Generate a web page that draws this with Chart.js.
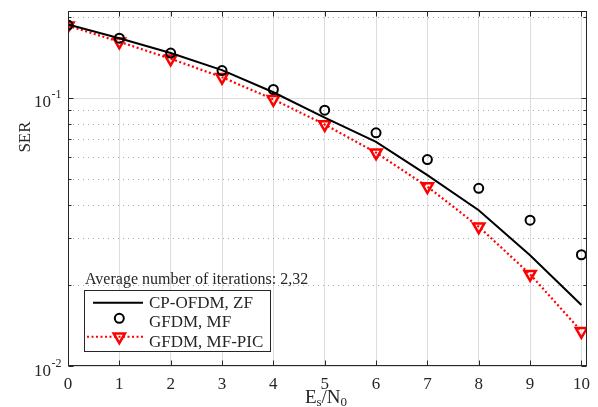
<!DOCTYPE html>
<html>
<head>
<meta charset="utf-8">
<script src="https://cdn.jsdelivr.net/npm/chart.js@4.4.0/dist/chart.umd.min.js"></script>
<style>
  html, body { margin: 0; padding: 0; background: #fff; }
  #wrap { width: 598px; height: 407px; }
</style>
</head>
<body>
<div id="wrap"><canvas id="serChart" width="598" height="407"></canvas></div>
<script>
// SER vs Es/N0 data
const esN0 = [0, 1, 2, 3, 4, 5, 6, 7, 8, 9, 10];
const cpOfdmZf = [0.188, 0.167, 0.147, 0.127, 0.105, 0.0845, 0.0686, 0.0515, 0.0381, 0.0259, 0.0169];
const gfdmMf = [0.187, 0.167, 0.147, 0.1265, 0.1075, 0.090, 0.0741, 0.0589, 0.046, 0.035, 0.026];
const gfdmMfPic = [0.186, 0.162, 0.140, 0.1195, 0.0988, 0.0796, 0.0625, 0.0467, 0.0331, 0.0220, 0.01347];
const seriesLabels = ["CP-OFDM, ZF", "GFDM, MF", "GFDM, MF-PIC"];
const noteText = "Average number of iterations: 2,32";

const serif = "'Liberation Serif', 'DejaVu Serif', serif";
const axisColor = "#262626";

function toPoints(ys) {
  return esN0.map((x, i) => ({ x: x, y: ys[i] }));
}

// grid, box, ticks, labels and legend drawn MATLAB-style
const matlabFrame = {
  id: "matlabFrame",
  beforeDatasetsDraw(chart) {
    const { ctx, chartArea: a, scales: { y } } = chart;
    ctx.save();
    ctx.lineWidth = 1;
    [0.01, 0.1].forEach(dec => {
      for (let k = 1; k <= 9; k++) {
        const v = k * dec;
        if (v < y.min || v > y.max) continue;
        const py = Math.round(y.getPixelForValue(v)) + 0.5;
        if (k === 1) {
          ctx.setLineDash([]);
          ctx.strokeStyle = "#dedede";
        } else {
          ctx.setLineDash([1, 4]);
          ctx.strokeStyle = "#a9a9a9";
        }
        ctx.beginPath();
        ctx.moveTo(a.left, py);
        ctx.lineTo(a.right, py);
        ctx.stroke();
      }
    });
    ctx.restore();
  },
  afterDatasetsDraw(chart) {
    const { ctx, chartArea: a, scales: { x, y } } = chart;
    ctx.save();
    ctx.strokeStyle = axisColor;
    ctx.fillStyle = axisColor;
    ctx.lineWidth = 1;
    ctx.setLineDash([]);
    const L = Math.round(a.left) + 0.5, R = Math.round(a.right) - 0.5;
    const T = Math.round(a.top) + 0.5, B = Math.round(a.bottom) - 0.5;

    // ticks
    ctx.beginPath();
    esN0.forEach(v => {
      const px = Math.round(x.getPixelForValue(v)) + 0.5;
      ctx.moveTo(px, B); ctx.lineTo(px, B - 5);
      ctx.moveTo(px, T); ctx.lineTo(px, T + 5);
    });
    [0.01, 0.1].forEach(dec => {
      for (let k = 1; k <= 9; k++) {
        const v = k * dec;
        if (v < y.min || v > y.max) continue;
        const py = Math.round(y.getPixelForValue(v)) + 0.5;
        const len = k === 1 ? 5 : 3;
        ctx.moveTo(L, py); ctx.lineTo(L + len, py);
        ctx.moveTo(R, py); ctx.lineTo(R - len, py);
      }
    });
    ctx.stroke();

    // box
    ctx.strokeRect(L, T, R - L, B - T);

    // y tick labels 10^-1, 10^-2
    ctx.textBaseline = "alphabetic";
    [[0.1, "-1", 9.4], [0.01, "-2", 10]].forEach(([v, ex, dy]) => {
      const py = y.getPixelForValue(v);
      ctx.font = "17px " + serif;
      const w1 = ctx.measureText("10").width;
      ctx.font = "12px " + serif;
      const w2 = ctx.measureText(ex).width;
      const x0 = a.left - 7 - w1 - w2;
      ctx.font = "17px " + serif;
      ctx.fillText("10", x0, py + dy);
      ctx.font = "12px " + serif;
      ctx.fillText(ex, x0 + w1 + 0.5, py + dy - 9);
    });

    // y title
    ctx.save();
    ctx.translate(30, 137);
    ctx.rotate(-Math.PI / 2);
    ctx.font = "17px " + serif;
    ctx.textAlign = "center";
    ctx.fillText("SER", 0, 0);
    ctx.restore();

    // x title E_s/N_0
    const parts = [["E", 19, 0], ["s", 13, 3.5], ["/N", 19, 0], ["0", 13, 3.5]];
    let tw = 0;
    parts.forEach(p => { ctx.font = p[1] + "px " + serif; tw += ctx.measureText(p[0]).width; });
    let cx = 326 - tw / 2;
    parts.forEach(p => {
      ctx.font = p[1] + "px " + serif;
      ctx.fillText(p[0], cx, 402.5 + p[2]);
      cx += ctx.measureText(p[0]).width;
    });

    // note above legend
    ctx.font = "16px " + serif;
    ctx.fillText(noteText, 85, 284);

    // legend box
    ctx.fillStyle = "#fff";
    ctx.fillRect(84.5, 290.5, 186, 61);
    ctx.strokeStyle = axisColor;
    ctx.strokeRect(84.5, 290.5, 186, 61);
    const rows = [302.7, 318.3, 336.7];
    // row 1: solid black line
    ctx.strokeStyle = "#000";
    ctx.lineWidth = 2;
    ctx.beginPath(); ctx.moveTo(93, rows[0]); ctx.lineTo(143, rows[0]); ctx.stroke();
    // row 2: circle
    ctx.beginPath(); ctx.arc(119.3, rows[1], 4.5, 0, Math.PI * 2); ctx.stroke();
    // row 3: red dotted line + triangle
    ctx.strokeStyle = "#ff0000";
    ctx.setLineDash([2, 2.5]);
    ctx.beginPath(); ctx.moveTo(87, rows[2]); ctx.lineTo(143, rows[2]); ctx.stroke();
    ctx.setLineDash([]);
    ctx.lineWidth = 2.5;
    const r = 6.5;
    ctx.beginPath();
    ctx.moveTo(119.3, rows[2] + r);
    ctx.lineTo(119.3 - r * 0.866, rows[2] - r / 2);
    ctx.lineTo(119.3 + r * 0.866, rows[2] - r / 2);
    ctx.closePath();
    ctx.stroke();
    ctx.fillStyle = axisColor;
    ctx.font = "17px " + serif;
    const baselines = [308.3, 326.7, 346.5];
    seriesLabels.forEach((t, i) => ctx.fillText(t, 149, baselines[i]));
    ctx.restore();
  }
};

const ctx = document.getElementById("serChart").getContext("2d");
new Chart(ctx, {
  type: "line",
  data: {
    datasets: [
      {
        label: seriesLabels[0],
        data: toPoints(cpOfdmZf),
        borderColor: "#000",
        borderWidth: 2,
        pointRadius: 0,
        tension: 0,
        fill: false,
      },
      {
        label: seriesLabels[1],
        data: toPoints(gfdmMf),
        showLine: false,
        pointStyle: "circle",
        pointRadius: 4.5,
        pointBorderWidth: 2,
        pointBorderColor: "#000",
        pointBackgroundColor: "rgba(0,0,0,0)",
        borderColor: "#000",
      },
      {
        label: seriesLabels[2],
        data: toPoints(gfdmMfPic),
        borderColor: "#ff0000",
        borderWidth: 2.2,
        borderDash: [2, 2.5],
        pointStyle: "triangle",
        rotation: 180,
        pointRadius: 6.5,
        pointBorderWidth: 2.5,
        pointBorderColor: "#ff0000",
        pointBackgroundColor: "rgba(0,0,0,0)",
        tension: 0,
        fill: false,
      },
    ],
  },
  options: {
    responsive: false,
    animation: false,
    layout: { padding: { top: 11, right: 8, left: 0, bottom: 0 } },
    plugins: {
      legend: { display: false },
      tooltip: { enabled: false },
    },
    scales: {
      x: {
        type: "linear",
        min: 0,
        max: 10.11,
        afterBuildTicks(scale) {
          scale.ticks = esN0.map(v => ({ value: v }));
        },
        afterFit(scale) { scale.height = 41; },
        grid: { color: "#dedede", lineWidth: 1, drawTicks: false },
        border: { display: false },
        ticks: {
          color: axisColor,
          padding: 8,
          maxRotation: 0,
          autoSkip: false,
          font: { family: serif, size: 17 },
        },
      },
      y: {
        type: "logarithmic",
        min: 0.01,
        max: 0.211,
        afterFit(scale) { scale.width = 68; },
        grid: { display: false },
        border: { display: false },
        ticks: { display: false },
      },
    },
  },
  plugins: [matlabFrame],
});
</script>
</body>
</html>
